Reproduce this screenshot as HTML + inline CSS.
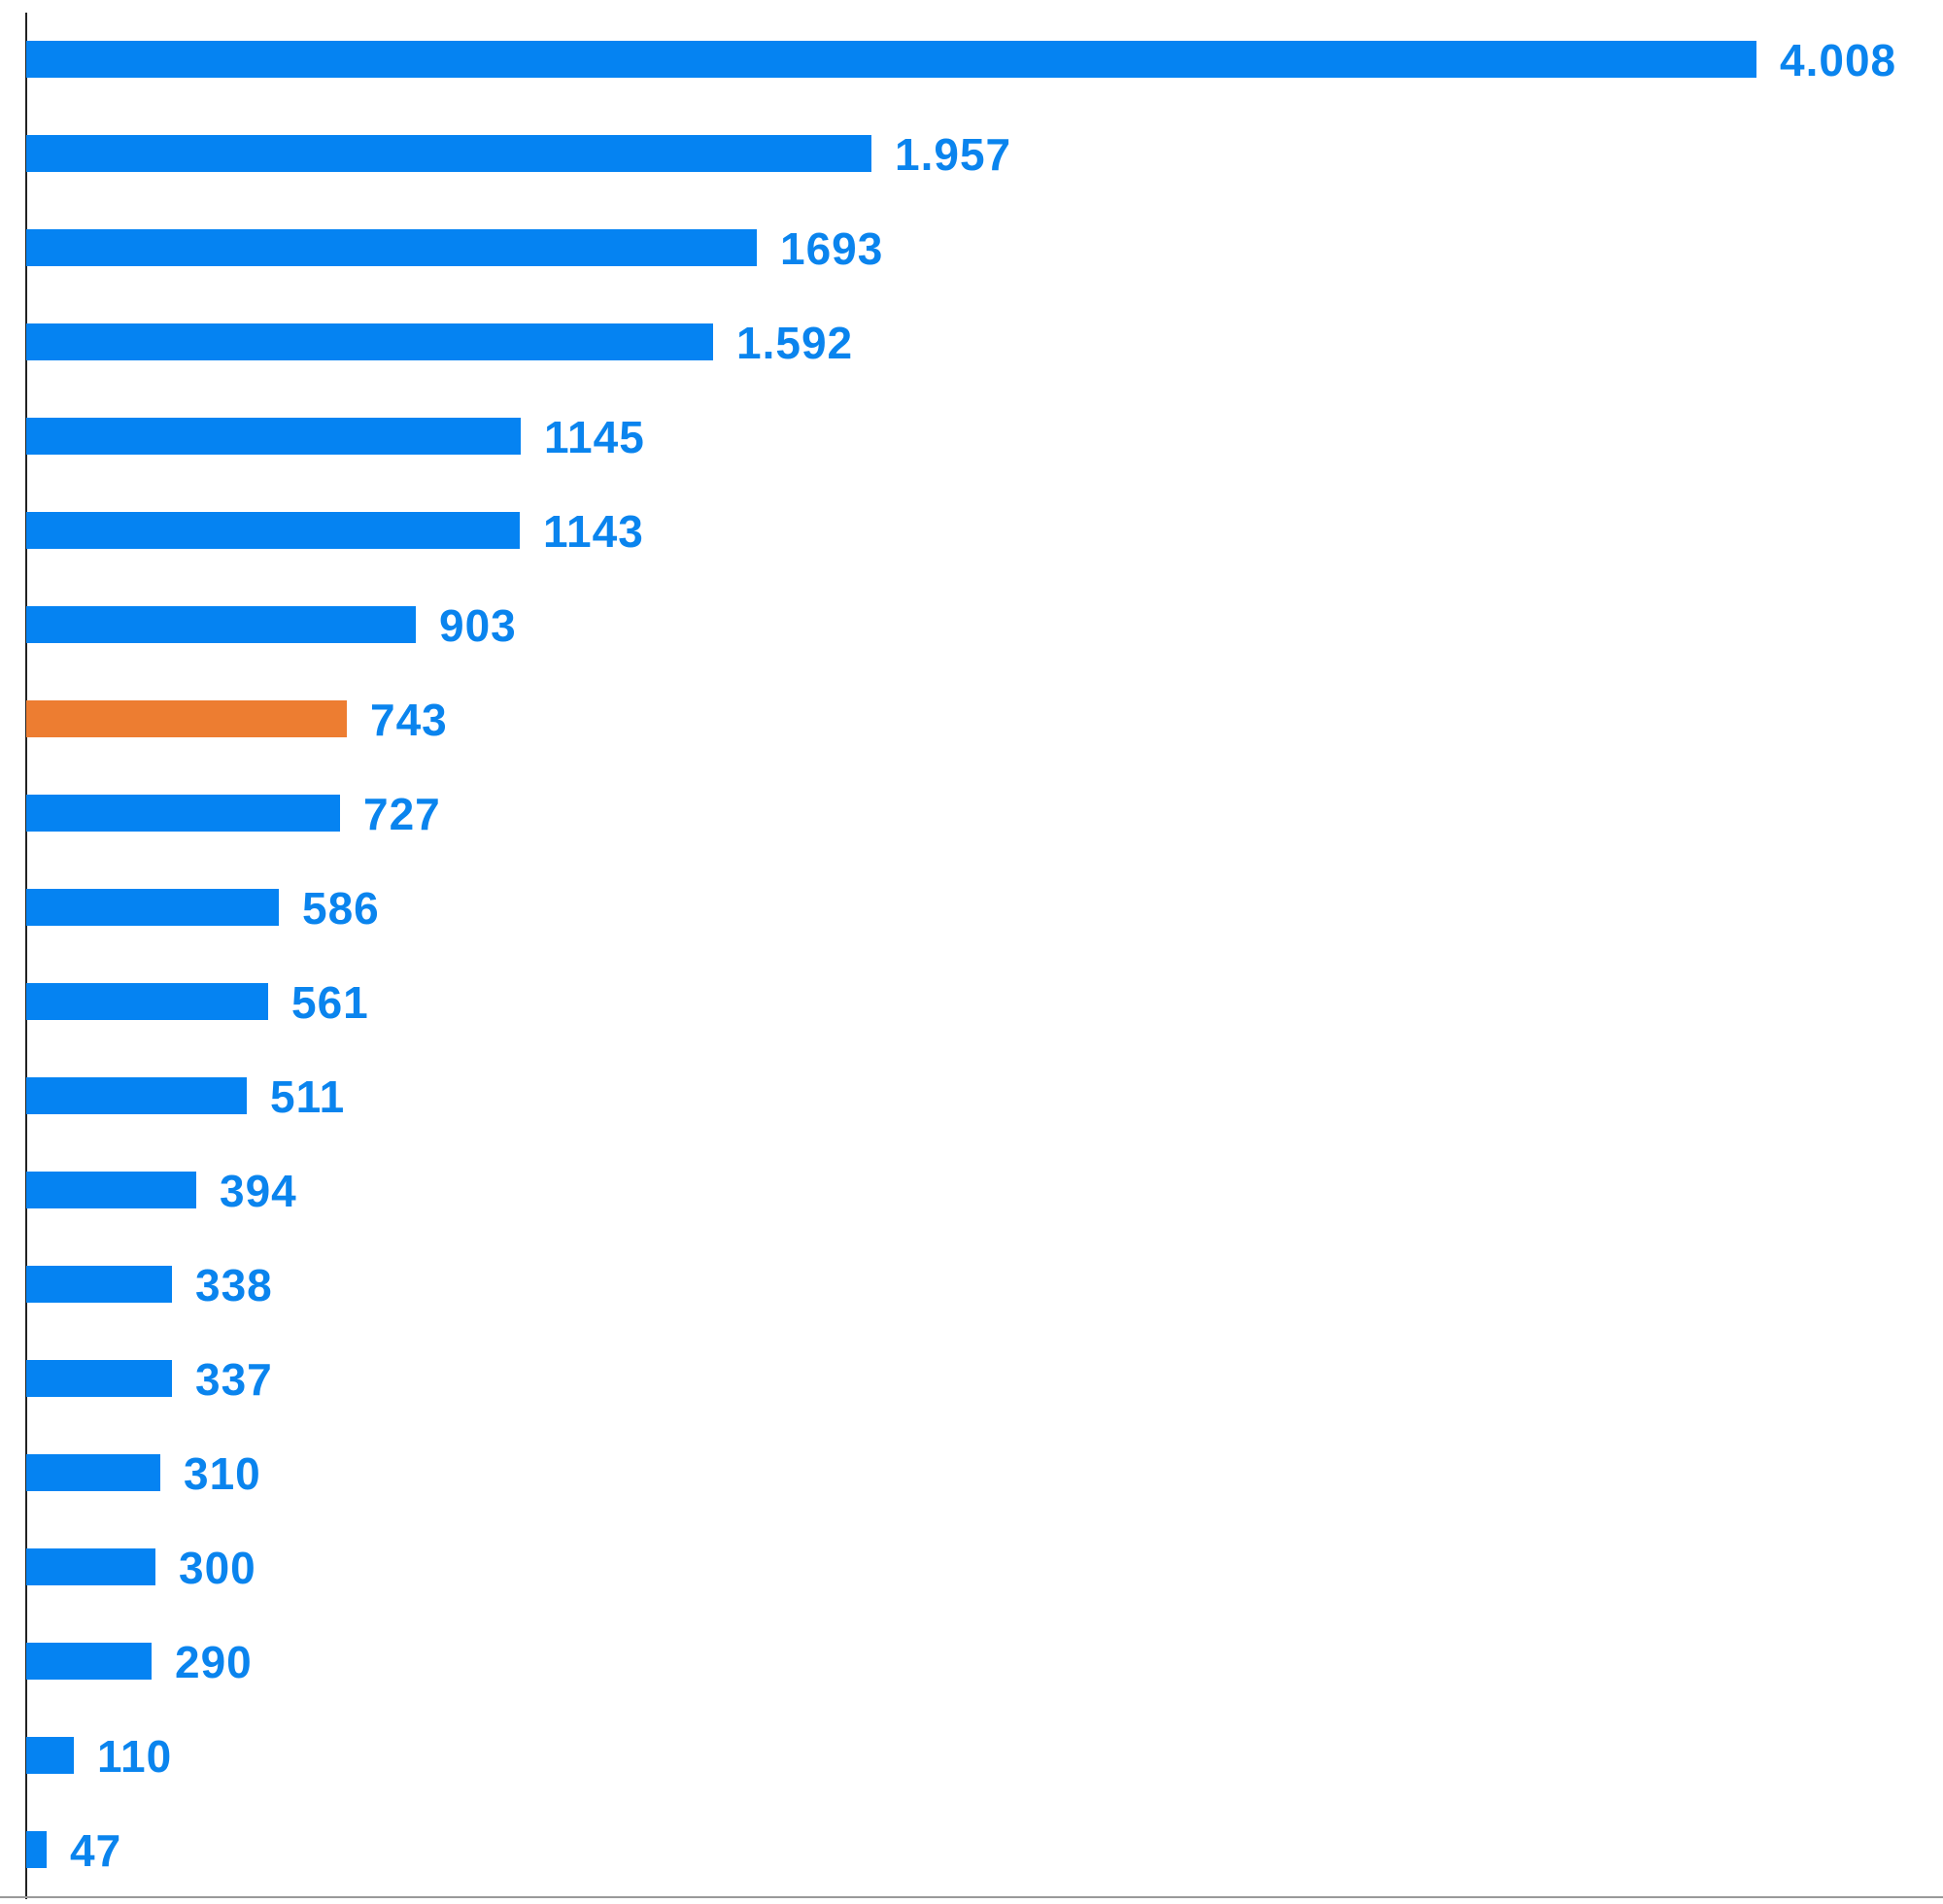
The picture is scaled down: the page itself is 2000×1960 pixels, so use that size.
<!DOCTYPE html>
<html><head><style>
body{margin:0;width:2000px;height:1960px;background:#fff;position:relative;overflow:hidden;font-family:"Liberation Sans",sans-serif}
.b{position:absolute;left:27px;height:38px;background:#0583f2}
.l{position:absolute;font-weight:bold;font-size:46px;color:#0a84ee;line-height:38px;letter-spacing:1px}
</style></head><body>
<div style="position:absolute;left:26px;top:13px;width:2px;height:1942px;background:#222"></div>
<div style="position:absolute;left:0;top:1952px;width:2000px;height:2px;background:#999"></div>
<div id="c"></div>
<script>
var v=[[4008,"4.008"],[1957,"1.957"],[1693,"1693"],[1592,"1.592"],[1145,"1145"],[1143,"1143"],[903,"903"],[743,"743"],[727,"727"],[586,"586"],[561,"561"],[511,"511"],[394,"394"],[338,"338"],[337,"337"],[310,"310"],[300,"300"],[290,"290"],[110,"110"],[47,"47"]];
var h="";
v.forEach(function(d,i){var w=Math.round(d[0]*0.4444),t=42+97*i;
h+='<div class="b" style="top:'+t+'px;width:'+w+'px'+(i==7?';background:#ed7d31':'')+'"></div>';
h+='<div class="l" style="top:'+(t+1)+'px;left:'+(27+w+24)+'px">'+d[1]+'</div>';});
document.getElementById("c").innerHTML=h;
</script>
</body></html>
